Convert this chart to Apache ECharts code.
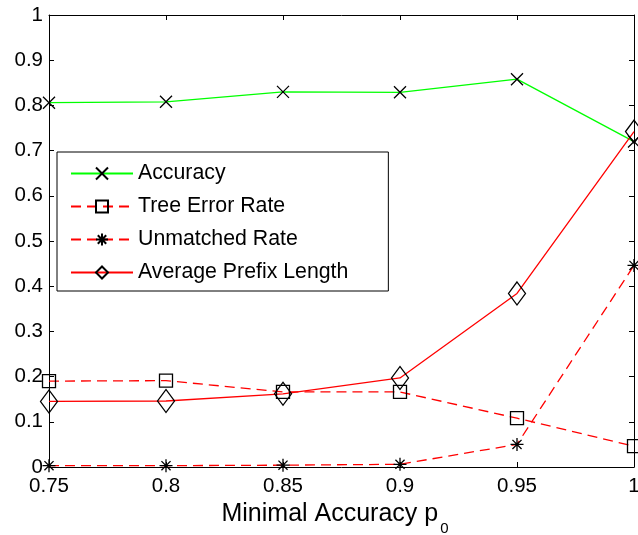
<!DOCTYPE html>
<html>
<head>
<meta charset="utf-8">
<script src="https://cdn.jsdelivr.net/npm/echarts@6/dist/echarts.min.js"></script>
<style>
html,body{margin:0;padding:0;background:#fff;}
#chart{width:638px;height:535px;}
</style>
</head>
<body>
<div id="chart"></div>
<script>
// ---- data ----
var xValues = [0.75, 0.8, 0.85, 0.9, 0.95, 1];
var accuracy = [0.806, 0.808, 0.830, 0.829, 0.858, 0.720];
var treeErrorRate = [0.190, 0.191, 0.166, 0.166, 0.108, 0.046];
var unmatchedRate = [0.003, 0.003, 0.004, 0.006, 0.050, 0.446];
var avgPrefixLength = [0.145, 0.146, 0.162, 0.197, 0.384, 0.742];
var seriesNames = ['Accuracy', 'Tree Error Rate', 'Unmatched Rate', 'Average Prefix Length'];
var xAxisTitle = 'Minimal Accuracy p';
var xAxisTitleSub = '0';

function pairs(ys) { return xValues.map(function (x, i) { return [x, ys[i]]; }); }

var FONT = '"Liberation Sans", Arial, Helvetica, sans-serif';
var CROSS = 'path://M0,0L10,10M10,0L0,10';
var STAR = 'path://M5,0L5,10M0,5L10,5M1.5,1.5L8.5,8.5M8.5,1.5L1.5,8.5';
var markerStyle = { color: 'none', borderColor: '#000', borderWidth: 1.3 };

function mkSeries(name, data, color, dashed, symbol, size) {
  return {
    name: name, type: 'line', data: pairs(data),
    symbol: symbol, symbolSize: size, showSymbol: true,
    lineStyle: { color: color, width: 1.3, type: dashed ? [10, 6] : 'solid' },
    itemStyle: markerStyle,
    emphasis: { disabled: true },
    xAxisIndex: 0, yAxisIndex: 0, clip: false
  };
}

var chart = echarts.init(document.getElementById('chart'), null, { renderer: 'canvas' });
var axisCommon = {
  axisLine: { show: true, onZero: false, lineStyle: { color: '#000', width: 1 } },
  axisTick: { show: true, inside: true, length: 5, lineStyle: { color: '#000' } },
  splitLine: { show: false }
};
chart.setOption({
  animation: false,
  backgroundColor: '#fff',
  textStyle: { fontFamily: FONT },
  grid: { left: 49, right: 4, top: 15, bottom: 68, containLabel: false, outerBoundsMode: 'none' },
  xAxis: [
    Object.assign({
      type: 'value', min: 0.75, max: 1, interval: 0.05, position: 'bottom',
      axisLabel: { fontSize: 20.5, color: '#000', margin: 9, fontFamily: FONT, hideOverlap: false,
        formatter: function (v) { return String(Math.round(v * 100) / 100); } },
      name: '{a|' + xAxisTitle + '}{b|' + xAxisTitleSub + '}',
      nameLocation: 'middle', nameGap: 21,
      nameTextStyle: { color: '#000', fontFamily: FONT, padding: [0, 13, 0, 0],
        rich: { a: { fontSize: 25, color: '#000', fontFamily: FONT },
                b: { fontSize: 15, color: '#000', fontFamily: FONT, padding: [29, 0, 0, 2] } } }
    }, axisCommon),
    Object.assign({
      type: 'value', min: 0.75, max: 1, interval: 0.05, position: 'top',
      axisLabel: { show: false }
    }, axisCommon)
  ],
  yAxis: [
    Object.assign({
      type: 'value', min: 0, max: 1, interval: 0.1, position: 'left',
      axisLabel: { fontSize: 20.5, color: '#000', margin: 6, fontFamily: FONT,
        formatter: function (v) { return String(Math.round(v * 10) / 10); } }
    }, axisCommon),
    Object.assign({
      type: 'value', min: 0, max: 1, interval: 0.1, position: 'right',
      axisLabel: { show: false }
    }, axisCommon)
  ],
  legend: {
    orient: 'vertical', left: 57, top: 152,
    padding: [11, 40, 8, 13],
    itemWidth: 62, itemHeight: 15, itemGap: 12,
    backgroundColor: '#fff', borderColor: '#000', borderWidth: 1,
    textStyle: { fontSize: 21.3, color: '#000', fontFamily: FONT },
    selectedMode: false,
    data: seriesNames
  },
  series: [
    mkSeries(seriesNames[0], accuracy, '#00ff00', false, CROSS, 12),
    mkSeries(seriesNames[1], treeErrorRate, '#ff0000', true, 'rect', 13),
    mkSeries(seriesNames[2], unmatchedRate, '#ff0000', true, STAR, 13),
    mkSeries(seriesNames[3], avgPrefixLength, '#ff0000', false, 'diamond', [17, 23])
  ]
});
</script>
</body>
</html>
